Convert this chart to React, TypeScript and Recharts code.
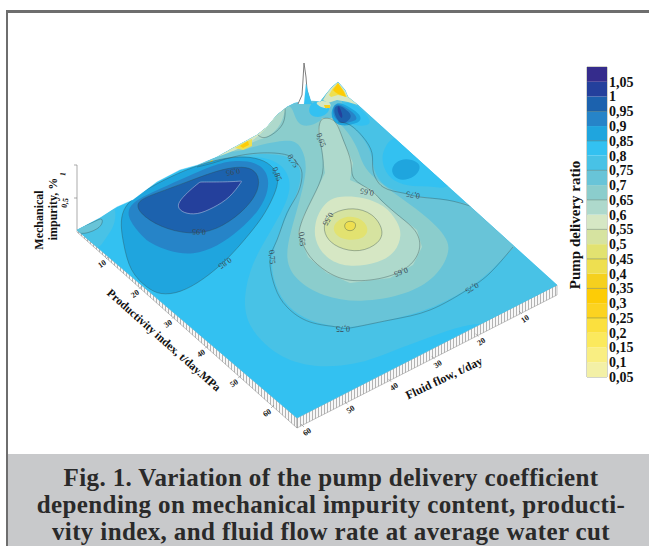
import React from 'react';
import { ScatterChart, Scatter, XAxis, YAxis, BarChart, Bar, ReferenceArea, ReferenceLine } from 'recharts';

type Pt = [number, number];

// legend: bottom of each band, colours from 0,05 upward
const bandLevels = [0.05, 0.1, 0.15, 0.2, 0.25, 0.3, 0.35, 0.4, 0.45, 0.5, 0.55, 0.6, 0.65, 0.7, 0.75, 0.8, 0.85, 0.9, 0.95, 1, 1.05];
const bandColors = ['#f3f0a6', '#f9ee82', '#fbe95d', '#fbe03e', '#fcd320', '#fdcc06', '#f5d01e', '#eedf50', '#e2e270', '#d6e3a0', '#d6e7c4', '#aed9cc', '#8bcdcc', '#68c4d8', '#48c2e6', '#33c1f1', '#1fa5de', '#2684c8', '#1c62ae', '#24409c', '#352c8c'];
const legendTicks = [0.05, 0.1, 0.15, 0.2, 0.25, 0.3, 0.35, 0.4, 0.45, 0.5, 0.55, 0.6, 0.65, 0.7, 0.75, 0.8, 0.85, 0.9, 0.95, 1, 1.05];
const legendLines = [0.25, 0.35, 0.45, 0.55, 0.65, 0.75, 0.85, 0.95];

const color = (level: number) => bandColors[bandLevels.indexOf(level)];

// surface traced in the picture's projected units
const surfaceOutline: Pt[] = [[77, 230], [100, 218], [117, 207], [133, 200], [157, 182], [180, 170], [198, 165], [217, 157], [233, 148], [257, 135], [267, 127], [277, 115], [287, 107], [295, 103], [312, 101], [320, 102], [327, 93], [332, 87], [338, 82], [345, 90], [348, 97], [358, 105], [557, 285], [297, 418]];
const wallLeft: Pt[] = [[77, 230], [297, 418], [297, 428], [77, 232]];
const wallRight: Pt[] = [[297, 418], [557, 285], [557, 295], [297, 428]];
const axisZ: Pt[] = [[77, 165], [77, 230]];
const axisZTick1: Pt[] = [[74, 165], [77, 165]];
const axisZTick2: Pt[] = [[74, 198], [77, 198]];

const area080: Pt[] = [[185, 160], [205, 163], [230, 158], [258, 156], [280, 162], [291, 178], [289, 200], [267, 237], [252, 263], [243, 297], [247, 327], [277, 357], [313, 368], [357, 365], [390, 352], [430, 337], [463, 325], [487, 323], [505, 322], [570, 300], [600, 200], [400, 40], [250, 100]];
const area075: Pt[] = [[190, 160], [197, 167], [213, 163], [233, 157], [260, 153], [287, 155], [297, 163], [302, 173], [298, 193], [287, 213], [277, 240], [270, 260], [275, 287], [287, 307], [310, 322], [337, 327], [350, 328], [390, 320], [430, 310], [467, 290], [490, 273], [513, 247], [525, 240], [485, 200], [473, 205], [447, 200], [420, 197], [403, 193], [383, 187], [373, 170], [372, 153], [363, 137], [350, 125], [340, 118], [345, 60], [250, 90]];
const skyRight: Pt[] = [[385, 147], [392, 137], [410, 135], [465, 175], [445, 190], [433, 186], [413, 187], [393, 182], [383, 168], [382, 155]];
const ovalRight: Pt[] = [[391, 170], [395, 162], [406, 158], [418, 162], [421, 168], [415, 177], [402, 181], [394, 177]];
const area070: Pt[] = [[222, 150], [235, 153], [258, 145], [285, 140], [295, 141], [302, 148], [308, 167], [300, 200], [290, 233], [285, 260], [295, 280], [323, 297], [360, 303], [407, 295], [437, 277], [450, 253], [448, 237], [420, 210], [363, 173], [360, 150], [343, 125], [332, 118], [322, 118], [315, 125], [300, 127], [294, 115], [290, 100], [250, 115]];
const area065: Pt[] = [[322, 118], [320, 122], [318, 130], [322, 150], [325, 173], [313, 197], [303, 217], [298, 233], [300, 237], [308, 257], [327, 273], [350, 283], [390, 278], [413, 265], [422, 247], [417, 230], [400, 217], [380, 200], [373, 190], [350, 180], [353, 163], [343, 140], [338, 125], [332, 118]];
const area060: Pt[] = [[330, 198], [345, 196], [363, 197], [385, 205], [398, 222], [402, 235], [396, 252], [380, 263], [347, 268], [325, 258], [314, 240], [315, 222], [320, 210]];
const area055: Pt[] = [[323, 223], [333, 212], [353, 207], [373, 213], [384, 230], [380, 243], [360, 253], [337, 248], [325, 237]];
const area050: Pt[] = [[332, 225], [345, 215], [362, 218], [370, 230], [362, 240], [345, 240], [335, 235]];
const coreLow: Pt[] = [[344, 226], [346, 222], [350, 221], [355, 222], [356, 226], [354, 230], [350, 231], [346, 230]];

const ridgePale: Pt[] = [[205, 150], [235, 152], [258, 139], [268, 138], [282, 125], [286, 105], [292, 90], [270, 95], [230, 120], [205, 140]];
const ridgeLight: Pt[] = [[190, 163], [215, 158], [240, 149], [255, 139], [266, 129], [275, 118], [283, 107], [275, 95], [225, 125], [190, 150]];
const ridgeYellow: Pt[] = [[235, 148], [243, 143], [252, 139], [252, 146], [243, 150]];
const ridgeOrange: Pt[] = [[240, 146], [248, 141], [249, 145], [243, 148]];
const ridgeSmall: Pt[] = [[205, 165], [212, 160], [214, 162], [207, 165]];

const cornerLight: Pt[] = [[60, 228], [95, 210], [116, 200], [116, 225], [106, 237], [99, 250], [88, 243], [70, 240]];
const cornerTeal: Pt[] = [[70, 230], [93, 223], [102, 217], [103, 223], [98, 229], [88, 233], [80, 234]];

const blue085: Pt[] = [[118, 207], [123, 243], [130, 272], [147, 288], [160, 295], [180, 293], [203, 280], [227, 260], [247, 237], [263, 217], [273, 198], [279, 182], [276, 170], [265, 160], [245, 156], [225, 158], [205, 163], [180, 172], [150, 187]];
const blue090: Pt[] = [[127, 203], [128, 220], [143, 237], [150, 243], [170, 252], [193, 255], [217, 247], [240, 230], [260, 210], [269, 190], [268, 173], [257, 162], [233, 160], [210, 166], [167, 186]];
const blue095: Pt[] = [[133, 202], [143, 217], [167, 230], [197, 235], [223, 227], [247, 208], [259, 190], [259, 175], [250, 167], [233, 167], [213, 172], [187, 182], [157, 193]];
const blue100: Pt[] = [[177, 207], [183, 213], [197, 215], [213, 208], [230, 198], [242, 181], [242, 181], [227, 182], [200, 182], [200, 182], [190, 190], [180, 200]];

const peakSky: Pt[] = [[353, 100], [375, 123], [363, 127], [345, 123], [335, 105]];
const peak085: Pt[] = [[335, 100], [350, 107], [361, 115], [361, 122], [350, 125], [342, 126], [335, 123], [330, 115]];
const peak090: Pt[] = [[335, 102], [347, 108], [355, 114], [358, 120], [350, 122], [342, 124], [336, 120], [332, 112]];
const peak095: Pt[] = [[337, 103], [350, 112], [352, 118], [343, 125], [337, 120], [333, 110]];
const peak100: Pt[] = [[338, 103], [343, 115], [342, 120], [337, 112]];
const dipSky: Pt[] = [[310, 103], [308, 113], [315, 118], [325, 116], [332, 108], [320, 100]];
const dipPale: Pt[] = [[314, 103], [322, 100], [332, 103], [330, 109], [322, 108]];
const dipYellow: Pt[] = [[324, 105], [330, 105], [330, 108], [325, 108]];
const crestPale: Pt[] = [[323, 100], [327, 93], [332, 87], [338, 82], [345, 90], [358, 105], [348, 102], [337, 100], [328, 103]];
const crestYellow: Pt[] = [[329, 95], [333, 88], [338, 83], [344, 91], [347, 97], [338, 95], [331, 97]];
const crestOrange: Pt[] = [[333, 90], [338, 83], [344, 92], [346, 97], [338, 94], [335, 92]];
const spikeOutline: Pt[] = [[298, 104], [302, 95], [303, 80], [304, 63], [306, 77], [307, 90], [311, 104]];
const spikeInner: Pt[] = [[306, 84], [308, 92], [312, 104], [304, 104]];

// isolines
const line075Lower: Pt[] = area075.slice(1, 22);
const line075Upper: Pt[] = [[473, 207], [447, 200], [420, 197], [403, 193], [383, 187], [373, 170], [372, 153], [363, 137], [350, 125], [338, 122]];
const line065Ridge: Pt[] = [[258, 135], [267, 137], [282, 125], [285, 107]];

// axis ticks and titles
const productivityTicks = [10, 20, 30, 40, 50, 60];
const flowTicks = [10, 20, 30, 40, 50, 60];
const textMarks: { x: number; y: number; a: number; t: string }[] = [
  { x: 233, y: 172, a: 170, t: '0,95' }, { x: 199, y: 232, a: 183, t: '0,95' },
  { x: 277, y: 174, a: 70, t: '0,85' }, { x: 225, y: 263, a: 145, t: '0,85' },
  { x: 293, y: 161, a: 60, t: '0,75' }, { x: 272, y: 257, a: 85, t: '0,75' },
  { x: 321, y: 140, a: 70, t: '0,65' }, { x: 302, y: 239, a: 85, t: '0,65' },
  { x: 328, y: 219, a: 120, t: '0,55' }, { x: 367, y: 192, a: 190, t: '0,65' },
  { x: 413, y: 195, a: 190, t: '0,75' }, { x: 401, y: 272, a: 160, t: '0,65' },
  { x: 343, y: 328, a: 180, t: '0,75' }, { x: 472, y: 288, a: 150, t: '0,75' },
];

const prodX = (p: number) => 102 + 3.3 * (p - 10);
const prodY = (p: number) => 264 + 2.98 * (p - 10);
const flowX = (f: number) => 525 - 4.36 * (f - 10);
const flowY = (f: number) => 319 + 2.26 * (f - 10);

const toRows = (pts: Pt[]) => pts.map(([x, y]) => ({ x, y }));
const noDot = () => <g />;

const textShape = (size: number, bold: boolean, fill: string) => (props: any) => {
  const { cx, cy, payload } = props;
  return (
    <text x={cx} y={cy} transform={`rotate(${payload.a} ${cx} ${cy})`} textAnchor="middle" dominantBaseline="central"
      fontFamily="'Liberation Serif', serif" fontWeight={bold ? 700 : 400} fontSize={size} fill={fill}>
      {payload.t}
    </text>
  );
};

function region(key: string, pts: Pt[], fill: string, joint = 'basisClosed', stroke = 'none', width = 0) {
  return (
    <Scatter key={key} data={toRows(pts)} isAnimationActive={false} shape={noDot} fill={fill} lineJointType={joint as any}
      line={{ fill, stroke, strokeWidth: width, clipPath: 'url(#surfaceClip)' } as any} />
  );
}

function isoline(key: string, pts: Pt[], closed = false) {
  return (
    <Scatter key={key} data={toRows(pts)} isAnimationActive={false} shape={noDot} fill="#234" lineJointType={closed ? 'basisClosed' : 'natural' as any}
      line={{ fill: 'none', stroke: '#2f4a4f', strokeWidth: 0.5, strokeOpacity: 0.75, clipPath: 'url(#surfaceClip)' } as any} />
  );
}

function plain(key: string, pts: Pt[], stroke: string, width = 0.7, fill = 'none', dash?: string, joint = 'linear') {
  return (
    <Scatter key={key} data={toRows(pts)} isAnimationActive={false} shape={noDot} fill={stroke} lineJointType={joint as any}
      line={{ fill, stroke, strokeWidth: width, strokeDasharray: dash } as any} />
  );
}

const legendRow: Record<string, any> = { name: 'scale', base: 0.05 };
bandLevels.forEach((l, i) => { legendRow[`b${i}`] = 0.05; });

export default function App() {
  const W = 649;
  const H = 546;
  return (
    <div style={{ position: 'absolute', left: 0, top: 0, width: W, height: H, background: '#fff', overflow: 'hidden' }}>
      <div style={{ position: 'absolute', left: 6, top: 10, width: W - 6, height: 3, background: '#6e6e6e' }} />
      <div style={{ position: 'absolute', left: 6, top: 10, width: 2, height: H - 10, background: '#6e6e6e' }} />

      <div style={{ position: 'absolute', left: 0, top: 0 }}>
        <ScatterChart width={W} height={H} margin={{ top: 0, right: 0, bottom: 0, left: 0 }}>
          <defs>
            <clipPath id="surfaceClip">
              <polygon points={surfaceOutline.map(p => p.join(',')).join(' ')} />
            </clipPath>
            <pattern id="wallHatch" width="3" height="10" patternUnits="userSpaceOnUse">
              <rect width="3" height="10" fill="#f7f7f7" />
              <line x1="0.5" y1="0" x2="0.5" y2="10" stroke="#a2a2a2" strokeWidth="0.8" />
            </pattern>
          </defs>
          <XAxis type="number" dataKey="x" domain={[0, W]} hide />
          <YAxis type="number" dataKey="y" domain={[0, H]} reversed hide />

          {plain('wallL', wallLeft, '#888', 0.5, 'url(#wallHatch)', undefined, 'linearClosed')}
          {plain('wallR', wallRight, '#888', 0.5, 'url(#wallHatch)', undefined, 'linearClosed')}
          {plain('zAxis', axisZ, '#888', 0.7)}
          {plain('zT1', axisZTick1, '#888', 0.7)}
          {plain('zT2', axisZTick2, '#888', 0.7)}
          {productivityTicks.map(p => plain(`pT${p}`, [[prodX(p) + 4, prodY(p) - 5], [prodX(p) + 7, prodY(p) - 8]], '#888', 0.6))}
          {flowTicks.map(f => plain(`fT${f}`, [[flowX(f) - 3, flowY(f) - 5], [flowX(f) - 6, flowY(f) - 8]], '#888', 0.6))}

          {plain('surface', surfaceOutline, color(0.8), 0.4, color(0.8), undefined, 'linearClosed')}

          {region('a080', area080, color(0.75))}
          {region('a075', area075, color(0.7))}
          {region('skyR', skyRight, color(0.8))}
          {region('ovalR', ovalRight, color(0.85))}
          {region('a070', area070, color(0.65))}
          {region('rPale', ridgePale, color(0.6))}
          {region('rLight', ridgeLight, color(0.55))}
          {region('rY', ridgeYellow, color(0.4), 'linearClosed')}
          {region('rO', ridgeOrange, color(0.3), 'linearClosed')}
          {region('rS', ridgeSmall, color(0.35), 'linearClosed')}
          {region('a065', area065, color(0.6), 'linearClosed')}
          {region('a060', area060, color(0.55))}
          {region('a055', area055, color(0.5))}
          {region('a050', area050, color(0.45))}
          {region('core', coreLow, color(0.4))}

          {region('cL', cornerLight, color(0.75))}
          {region('cT', cornerTeal, color(0.7))}

          {region('b085', blue085, color(0.85))}
          {region('b090', blue090, color(0.9))}
          {region('b095', blue095, color(0.95))}
          {plain('b100', blue100, '#c9d4e8', 0.5, color(1), undefined, 'basisClosed')}

          {region('pS', peakSky, color(0.8))}
          {region('p085', peak085, color(0.85))}
          {region('p090', peak090, color(0.9))}
          {region('p095', peak095, color(0.95))}
          {region('p100', peak100, color(1))}
          {region('dS', dipSky, color(0.8))}
          {region('dP', dipPale, color(0.55))}
          {region('dY', dipYellow, color(0.35), 'linearClosed')}
          {region('crP', crestPale, color(0.55), 'linearClosed')}
          {region('crY', crestYellow, color(0.4), 'linearClosed')}
          {region('crO', crestOrange, color(0.3), 'linearClosed')}

          {plain('spike', spikeOutline, '#6f6f6f', 0.9, '#fff')}
          {plain('spikeIn', spikeInner, color(0.8), 0.2, color(0.8), undefined, 'linearClosed')}

          {isoline('l075a', line075Lower)}
          {isoline('l075b', line075Upper)}
          {isoline('l065r', line065Ridge)}
          {isoline('l065', area065, true)}
          {isoline('l055', area055, true)}
          {isoline('lCore', coreLow, true)}
          {isoline('l085', blue085, true)}
          {isoline('l095', blue095, true)}
          {isoline('lCorner', cornerTeal, true)}

          <Scatter data={textMarks} isAnimationActive={false} shape={textShape(8, false, '#3a4a55')} />
          <Scatter data={productivityTicks.map(p => ({ x: prodX(p), y: prodY(p), a: -35, t: String(p) }))}
            isAnimationActive={false} shape={textShape(8, true, '#222')} />
          <Scatter data={flowTicks.map(f => ({ x: flowX(f), y: flowY(f), a: -35, t: String(f) }))}
            isAnimationActive={false} shape={textShape(8, true, '#222')} />
          <Scatter data={[{ x: 164, y: 340, a: 41.6, t: 'Productivity index, t/day.MPa' }]} isAnimationActive={false} shape={textShape(11.5, true, '#111')} />
          <Scatter data={[{ x: 444, y: 378, a: -25.4, t: 'Fluid flow, t/day' }]} isAnimationActive={false} shape={textShape(12, true, '#111')} />
          <Scatter data={[{ x: 39, y: 220, a: -90, t: 'Mechanical' }, { x: 53, y: 209, a: -90, t: 'impurity, %' }]} isAnimationActive={false} shape={textShape(12, true, '#111')} />
          <Scatter data={[{ x: 63, y: 174, a: -80, t: '1' }, { x: 65, y: 203, a: -80, t: '0,5' }]} isAnimationActive={false} shape={textShape(8, true, '#222')} />
          <Scatter data={[{ x: 575, y: 225, a: -90, t: 'Pump delivery ratio' }]} isAnimationActive={false} shape={textShape(15, true, '#111')} />
        </ScatterChart>
      </div>

      <div style={{ position: 'absolute', left: 0, top: 0 }}>
        <BarChart width={W} height={H} data={[legendRow]} barCategoryGap={0} margin={{ top: 67, right: 0, bottom: H - 377, left: 587 }}>
          <XAxis dataKey="name" hide />
          <YAxis orientation="right" type="number" width={42} domain={[0.05, 1.1]} ticks={legendTicks} allowDataOverflow interval={0}
            tickLine={false} axisLine={false} tickSize={0} tickMargin={2} tickFormatter={(v: number) => String(v).replace('.', ',')}
            tick={{ fontFamily: "'Liberation Serif', serif", fontWeight: 700, fontSize: 14, fill: '#111' }} />
          <Bar dataKey="base" stackId="s" fill="none" isAnimationActive={false} />
          {bandLevels.map((l, i) => (
            <Bar key={l} dataKey={`b${i}`} stackId="s" fill={bandColors[i]} isAnimationActive={false} />
          ))}
          {legendLines.map(l => <ReferenceLine key={l} y={l} stroke="#3d5a4a" strokeOpacity={0.55} strokeWidth={0.7} />)}
          <ReferenceArea y1={0.05} y2={1.1} fill="none" stroke="#8f947f" strokeWidth={0.8} />
        </BarChart>
      </div>

      <div style={{ position: 'absolute', left: 8, top: 454, width: W - 8, height: H - 454, background: '#c8c9cb', color: '#2a2a2a', textAlign: 'center', fontFamily: "'Liberation Serif', serif", fontWeight: 700, fontSize: 25, letterSpacing: 0.38, lineHeight: '27px', padding: '10px 0 0 5px', boxSizing: 'border-box', whiteSpace: 'nowrap' }}>
        Fig. 1. Variation of the pump delivery coefficient<br />
        depending on mechanical impurity content, producti-<br />
        vity index, and fluid flow rate at average water cut
      </div>
    </div>
  );
}
